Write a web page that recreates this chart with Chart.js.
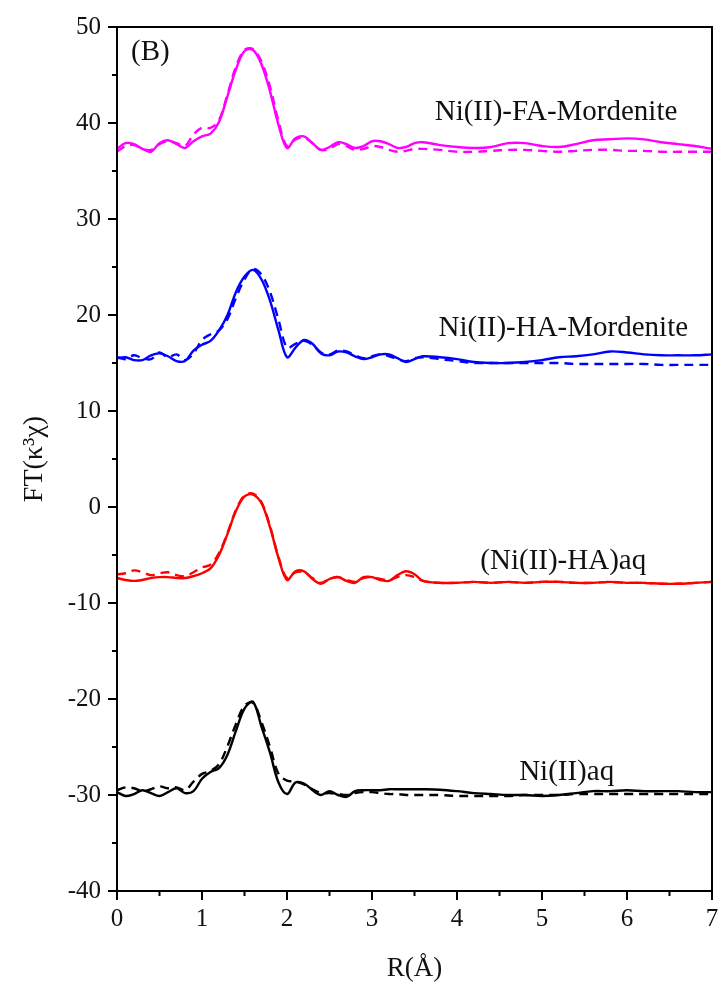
<!DOCTYPE html>
<html>
<head>
<meta charset="utf-8">
<script src="https://cdn.jsdelivr.net/npm/chart.js@4.4.1/dist/chart.umd.min.js"></script>
<style>
  html, body { margin: 0; padding: 0; background: #fff; }
  #wrap { width: 724px; height: 993px; }
</style>
</head>
<body>
<div id="wrap"><canvas id="ftChart" width="724" height="993"></canvas></div>
<script>
// R grid (Angstrom)
const rValues = [
  0.0, 0.1, 0.2, 0.3, 0.4, 0.5, 0.6, 0.7, 0.8, 0.9,
  1.0, 1.1, 1.2, 1.3, 1.4, 1.5, 1.6, 1.7, 1.8, 1.9,
  2.0, 2.1, 2.2, 2.3, 2.4, 2.5, 2.6, 2.7, 2.8, 2.9,
  3.0, 3.1, 3.2, 3.3, 3.4, 3.5, 3.6, 3.8, 4.0, 4.2,
  4.4, 4.6, 4.8, 5.0, 5.2, 5.4, 5.6, 5.8, 6.0, 6.2,
  6.4, 6.6, 6.8, 7.0
];

// Ni(II)-FA-Mordenite
const faExp = [
  37.3, 37.9, 37.8, 37.3, 37.0, 37.9, 38.2, 37.8, 37.4, 38.1,
  38.6, 38.9, 40.1, 42.8, 45.6, 47.5, 47.6, 46.1, 43.3, 39.8,
  37.4, 38.4, 38.6, 37.9, 37.2, 37.5, 38.0, 37.8, 37.4, 37.6,
  38.1, 38.1, 37.8, 37.4, 37.5, 37.9, 38.0, 37.7, 37.5, 37.4,
  37.5, 37.9, 37.9, 37.6, 37.5, 37.8, 38.2, 38.3, 38.4, 38.3,
  38.0, 37.8, 37.6, 37.3
];
const faFit = [
  37.0, 37.6, 37.7, 37.3, 37.2, 37.8, 38.1, 37.9, 37.6, 38.8,
  39.5, 39.5, 40.3, 43.0, 45.9, 47.6, 47.7, 46.4, 43.8, 40.2,
  37.6, 38.3, 38.5, 37.9, 37.2, 37.3, 37.8, 37.6, 37.2, 37.3,
  37.6, 37.5, 37.2, 37.0, 37.1, 37.3, 37.3, 37.2, 37.0, 37.0,
  37.1, 37.2, 37.2, 37.1, 37.0, 37.1, 37.2, 37.2, 37.1, 37.1,
  37.0, 37.0, 37.0, 37.0
];

// Ni(II)-HA-Mordenite
const haMorExp = [
  15.5, 15.6, 15.3, 15.3, 15.8, 16.0, 15.7, 15.2, 15.2, 16.3,
  16.9, 17.3, 18.4, 20.0, 22.4, 24.0, 24.7, 23.7, 21.5, 18.4,
  15.6, 16.6, 17.4, 17.0, 16.0, 15.8, 16.2, 16.1, 15.7, 15.4,
  15.6, 15.9, 15.9, 15.5, 15.1, 15.4, 15.7, 15.6, 15.4, 15.1,
  15.0, 15.0, 15.1, 15.3, 15.6, 15.7, 15.9, 16.2, 16.1, 15.9,
  15.8, 15.8, 15.8, 15.9
];
const haMorFit = [
  15.6, 15.4, 15.8, 15.5, 15.4, 16.1, 15.6, 15.9, 15.3, 16.0,
  17.4, 18.0, 18.4, 19.6, 21.8, 23.7, 24.8, 24.2, 22.4, 19.5,
  16.6, 17.0, 17.3, 16.9, 16.1, 15.9, 16.3, 16.2, 15.8, 15.5,
  15.7, 15.9, 15.7, 15.4, 15.2, 15.5, 15.6, 15.4, 15.2, 15.0,
  15.0, 15.0, 15.0, 15.0, 15.0, 14.9, 14.9, 14.9, 14.9, 14.9,
  14.8, 14.8, 14.8, 14.8
];

// (Ni(II)-HA)aq
const haAqExp = [
  -7.4, -7.6, -7.7, -7.6, -7.4, -7.3, -7.3, -7.4, -7.4, -7.2,
  -6.9, -6.4, -5.0, -2.8, -0.4, 1.1, 1.3, 0.4, -2.1, -5.3,
  -7.6, -6.7, -6.7, -7.5, -8.0, -7.5, -7.3, -7.7, -7.9, -7.3,
  -7.3, -7.6, -7.7, -7.1, -6.7, -7.0, -7.7, -7.9, -7.9, -7.8,
  -7.9, -7.8, -7.9, -7.8, -7.8, -7.9, -7.9, -7.8, -7.9, -7.9,
  -8.0, -8.0, -7.9, -7.8
];
const haAqFit = [
  -7.0, -6.9, -6.6, -6.8, -7.1, -6.9, -6.8, -7.1, -7.2, -6.8,
  -6.3, -6.0, -4.8, -2.7, -0.3, 1.2, 1.4, 0.5, -2.0, -5.2,
  -7.4, -6.8, -6.8, -7.4, -7.9, -7.5, -7.3, -7.6, -7.8, -7.4,
  -7.3, -7.5, -7.6, -7.3, -7.1, -7.3, -7.7, -7.9, -7.9, -7.8,
  -7.9, -7.8, -7.9, -7.8, -7.8, -7.9, -7.9, -7.8, -7.9, -7.9,
  -8.0, -8.0, -7.9, -7.8
];

// Ni(II)aq
const niAqExp = [
  -29.7, -30.1, -29.9, -29.5, -29.8, -30.1, -29.7, -29.3, -29.8, -29.6,
  -28.3, -27.6, -27.2, -25.8, -23.3, -21.0, -20.3, -22.9, -25.6, -28.7,
  -29.9, -28.7, -28.8, -29.5, -30.0, -29.6, -30.0, -30.2, -29.6, -29.5,
  -29.5, -29.5, -29.4, -29.4, -29.4, -29.4, -29.4, -29.45, -29.6, -29.8,
  -29.9, -30.0, -30.0, -30.1, -30.0, -29.8, -29.6, -29.6, -29.5, -29.6,
  -29.6, -29.6, -29.7, -29.7
];
const niAqFit = [
  -29.5, -29.2, -29.3, -29.6, -29.4, -29.1, -29.3, -29.2, -29.5, -28.6,
  -27.8, -27.5, -26.8, -24.9, -22.6, -20.7, -20.4, -22.4, -25.0, -27.8,
  -28.5, -28.6, -28.9, -29.4, -29.8, -29.8, -29.9, -30.0, -29.8, -29.7,
  -29.7, -29.8, -29.9, -29.9, -30.0, -30.0, -30.0, -30.0, -30.1, -30.1,
  -30.1, -30.1, -30.0, -30.0, -30.0, -29.9, -29.9, -29.9, -29.9, -29.9,
  -29.9, -29.9, -29.9, -29.9
];

// Axis ticks
const xTicks = [0, 1, 2, 3, 4, 5, 6, 7];
const yTicks = [-40, -30, -20, -10, 0, 10, 20, 30, 40, 50];

// Curve labels (text + data position)
const curveLabels = [
  { text: "(B)", x: 0.165, y: 47.4, align: "left" },
  { text: "Ni(II)-FA-Mordenite", x: 5.165, y: 41.15, align: "center" },
  { text: "Ni(II)-HA-Mordenite", x: 5.25, y: 18.65, align: "center" },
  { text: "(Ni(II)-HA)aq", x: 5.25, y: -5.7, align: "center" },
  { text: "Ni(II)aq", x: 5.29, y: -27.6, align: "center" },
];

const serif = "'Liberation Serif', 'Times New Roman', serif";

function toPoints(values) {
  return values.map((v, i) => ({ x: rValues[i], y: v }));
}

function makeSet(label, values, color, dashed) {
  return {
    label: label,
    data: toPoints(values),
    borderColor: color,
    backgroundColor: color,
    borderWidth: 2.4,
    borderDash: dashed ? [9, 6] : [],
    pointRadius: 0,
    tension: 0.35,
    fill: false,
  };
}

// Frame, outward ticks (major + minor) and curve labels
const framePlugin = {
  id: "frame",
  afterDatasetsDraw(chart) {
    const ctx = chart.ctx;
    const area = chart.chartArea;
    const xs = chart.scales.x;
    const ys = chart.scales.y;
    ctx.save();
    ctx.strokeStyle = "#000";
    ctx.lineWidth = 2;
    ctx.strokeRect(area.left, area.top, area.right - area.left, area.bottom - area.top);

    // x ticks
    for (let v = 0; v <= 7.001; v += 0.5) {
      const px = xs.getPixelForValue(v);
      const len = Number.isInteger(v) ? 9 : 5;
      ctx.beginPath();
      ctx.moveTo(px, area.bottom);
      ctx.lineTo(px, area.bottom + len);
      ctx.stroke();
    }
    // y ticks
    for (let v = -40; v <= 50; v += 5) {
      const py = ys.getPixelForValue(v);
      const len = v % 10 === 0 ? 9 : 5;
      ctx.beginPath();
      ctx.moveTo(area.left, py);
      ctx.lineTo(area.left - len, py);
      ctx.stroke();
    }

    ctx.fillStyle = "#111";
    ctx.font = "29px " + serif;
    ctx.textBaseline = "middle";
    curveLabels.forEach((lab) => {
      ctx.textAlign = lab.align;
      ctx.fillText(lab.text, xs.getPixelForValue(lab.x), ys.getPixelForValue(lab.y));
    });
    ctx.restore();
  },
};

const ctx = document.getElementById("ftChart").getContext("2d");
const ftChart = new Chart(ctx, {
  type: "line",
  data: {
    datasets: [
      makeSet("FA-Mordenite exp", faExp, "#ff00ff", false),
      makeSet("FA-Mordenite fit", faFit, "#ff00ff", true),
      makeSet("HA-Mordenite exp", haMorExp, "#0000ff", false),
      makeSet("HA-Mordenite fit", haMorFit, "#0000ff", true),
      makeSet("HA aq exp", haAqExp, "#ff0000", false),
      makeSet("HA aq fit", haAqFit, "#ff0000", true),
      makeSet("Ni aq exp", niAqExp, "#000000", false),
      makeSet("Ni aq fit", niAqFit, "#000000", true),
    ],
  },
  options: {
    responsive: false,
    animation: false,
    layout: { padding: { top: 27, right: 12, left: 0, bottom: 0 } },
    plugins: {
      legend: { display: false },
      tooltip: { enabled: false },
    },
    scales: {
      x: {
        type: "linear",
        min: 0,
        max: 7,
        afterBuildTicks: (scale) => {
          scale.ticks = xTicks.map((v) => ({ value: v }));
        },
        afterFit: (scale) => {
          scale.height = 102;
        },
        grid: { display: false },
        border: { display: false },
        ticks: {
          color: "#111",
          font: { family: serif, size: 25 },
          padding: 5,
          maxRotation: 0,
        },
        title: {
          display: true,
          text: "R(Å)",
          color: "#111",
          font: { family: serif, size: 27 },
          padding: { top: 0, bottom: 8 },
        },
      },
      y: {
        type: "linear",
        min: -40,
        max: 50,
        afterBuildTicks: (scale) => {
          scale.ticks = yTicks.map((v) => ({ value: v }));
        },
        afterFit: (scale) => {
          scale.width = 117;
        },
        grid: { display: false },
        border: { display: false },
        ticks: {
          color: "#111",
          font: { family: serif, size: 25 },
          padding: 8,
        },
        title: {
          display: true,
          text: "FT(κ³χ)",
          color: "#111",
          font: { family: serif, size: 28 },
          padding: { top: 18, bottom: 0 },
        },
      },
    },
  },
  plugins: [framePlugin],
});
</script>
</body>
</html>
